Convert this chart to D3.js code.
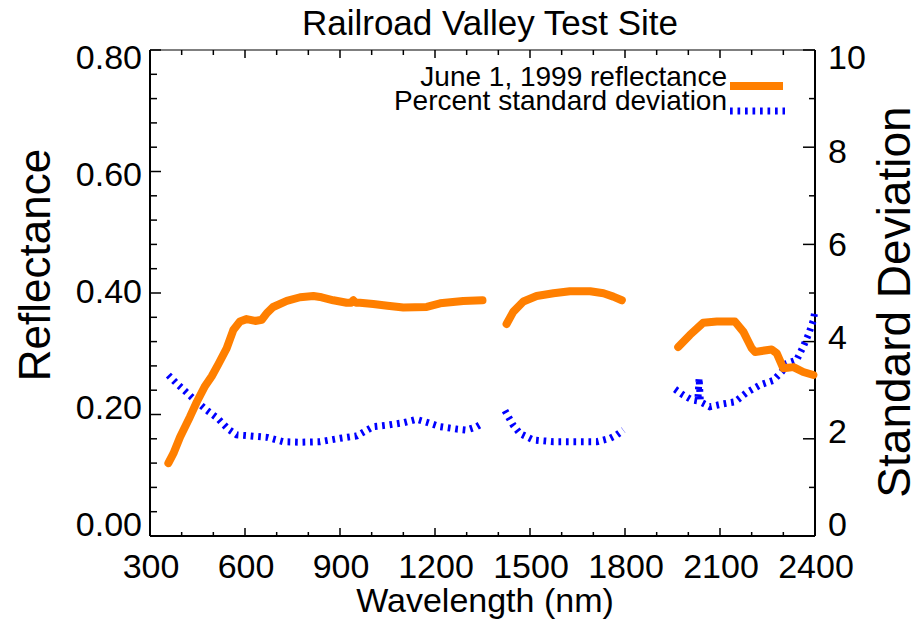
<!DOCTYPE html>
<html>
<head>
<meta charset="utf-8">
<script src="https://cdn.jsdelivr.net/npm/d3@7"></script>
<style>
  html, body { margin: 0; padding: 0; background: #fff; }
  svg { display: block; font-family: "Liberation Sans", Arial, Helvetica, sans-serif; }
</style>
</head>
<body>
<svg id="chart" width="924" height="622"></svg>
<script>
// ---------------- data ----------------
const title = "Railroad Valley Test Site";
const xLabel = "Wavelength (nm)";
const yLeftLabel = "Reflectance";
const yRightLabel = "Standard Deviation";
const legendLabels = ["June 1, 1999 reflectance", "Percent standard deviation"];

const xTickValues = [300, 600, 900, 1200, 1500, 1800, 2100, 2400];
const yLeftTickValues = [0.0, 0.2, 0.4, 0.6, 0.8];
const yLeftTickLabels = ["0.00", "0.20", "0.40", "0.60", "0.80"];
const yRightTickValues = [0, 2, 4, 6, 8, 10];
const yRightTickLabels = ["0", "2", "4", "6", "8", "10"];

// null marks a gap (water absorption bands)
const reflWavelength = [358, 374, 395, 426, 448, 474, 495, 516, 542, 563, 584, 605, 632, 653, 669, 689,
  732, 774, 816, 842, 879, 921, 935, 942, 950, 963, 1005, 1050, 1100, 1174, 1216, 1289, 1350,
  null,
  1426, 1447, 1479, 1521, 1574, 1626, 1690, 1732, 1763, 1790,
  null,
  1968, 2005, 2047, 2090, 2147, 2174, 2200, 2211, 2263, 2279, 2300, 2332, 2363, 2395];
const reflectance = [0.120, 0.136, 0.163, 0.196, 0.221, 0.247, 0.263, 0.283, 0.309, 0.339, 0.353, 0.357, 0.354, 0.356, 0.367, 0.377,
  0.387, 0.393, 0.395, 0.393, 0.388, 0.384, 0.384, 0.388, 0.384, 0.384, 0.382, 0.379, 0.376, 0.377, 0.383, 0.387, 0.388,
  null,
  0.349, 0.369, 0.386, 0.395, 0.3995, 0.403, 0.403, 0.3995, 0.394, 0.388,
  null,
  0.311, 0.331, 0.351, 0.353, 0.353, 0.336, 0.309, 0.303, 0.307, 0.301, 0.276, 0.278, 0.270, 0.265];

const sdWavelength = [358, 384, 416, 448, 479, 514, 547, 574, 616, 669, 721, 774, 837, 900, 953, 1005,
  1047, 1100, 1142, 1174, 1216, 1269, 1300, 1332, 1353,
  null,
  1421, 1432, 1447, 1468, 1511, 1574, 1658, 1711, 1753, 1774, 1795,
  null,
  1958, 1984, 2011, 2030, 2034, 2038, 2068, 2111, 2147, 2184, 2227, 2268, 2295, 2311, 2342, 2363, 2379, 2395, 2400];
const stdDeviation = [3.31, 3.14, 2.95, 2.76, 2.59, 2.42, 2.20, 2.08, 2.06, 2.03, 1.94, 1.93, 1.94, 2.01, 2.06, 2.25,
  2.28, 2.33, 2.40, 2.34, 2.25, 2.20, 2.18, 2.25, 2.33,
  null,
  2.58, 2.45, 2.28, 2.11, 1.975, 1.94, 1.94, 1.94, 2.01, 2.08, 2.18,
  null,
  3.02, 2.90, 2.80, 2.78, 3.25, 2.76, 2.66, 2.72, 2.76, 2.95, 3.11, 3.20, 3.38, 3.55, 3.62, 3.90, 4.14, 4.44, 4.65];

// ---------------- layout ----------------
const svg = d3.select("#chart");
const L = 150, R = 815, T = 50, B = 536;
const ORANGE = "#ff7f00", BLUE = "#0000ff";

const x = d3.scaleLinear().domain([300, 2400]).range([L, R]);
const yL = d3.scaleLinear().domain([0, 0.8]).range([B, T]);
const yR = d3.scaleLinear().domain([0, 10]).range([B, T]);
// IDL-style label placement (slightly inset from the ends)
const yLabL = d3.scaleLinear().domain([0, 0.8]).range([524, 57]);
const yLabR = d3.scaleLinear().domain([0, 10]).range([524, 57]);

const ax = svg.append("g").attr("stroke", "#000").attr("stroke-width", 1.5).attr("fill", "none");
// frame
ax.append("line").attr("x1", L).attr("x2", R).attr("y1", B).attr("y2", B).attr("stroke-width", 2);
ax.append("line").attr("x1", L).attr("x2", R).attr("y1", T).attr("y2", T).attr("stroke", "#555");
ax.append("line").attr("x1", L).attr("x2", L).attr("y1", T).attr("y2", B).attr("stroke-width", 2);
ax.append("line").attr("x1", R).attr("x2", R).attr("y1", T).attr("y2", B).attr("stroke-width", 2);

// x ticks (bottom & top)
const xMinor = d3.range(300, 2401, 100);
xMinor.forEach(v => {
  const major = xTickValues.includes(v);
  ax.append("line").attr("x1", x(v)).attr("x2", x(v)).attr("y1", B).attr("y2", B - (major ? 8 : 4));
  ax.append("line").attr("x1", x(v)).attr("x2", x(v)).attr("y1", T).attr("y2", T + (major ? 8 : 5));
});
// left ticks
d3.range(0, 21).map(i => i * 0.04).forEach((v, i) => {
  const major = i % 5 === 0;
  ax.append("line").attr("x1", L).attr("x2", L + (major ? 11 : 7)).attr("y1", yL(v)).attr("y2", yL(v));
});
// right ticks
d3.range(0, 11).forEach(v => {
  const major = v % 2 === 0;
  ax.append("line").attr("x1", R).attr("x2", R - (major ? 12 : 6)).attr("y1", yR(v)).attr("y2", yR(v));
});

const FS = 34;
// x tick labels
svg.append("g").selectAll("text").data(xTickValues).join("text")
  .attr("x", d => x(d) + 1).attr("y", 578).attr("text-anchor", "middle")
  .attr("font-size", FS).text(d => d);
// left tick labels
svg.append("g").selectAll("text").data(yLeftTickValues).join("text")
  .attr("x", 142).attr("y", d => yLabL(d)).attr("dy", "0.36em").attr("text-anchor", "end")
  .attr("font-size", FS).text((d, i) => yLeftTickLabels[i]);
// right tick labels
svg.append("g").selectAll("text").data(yRightTickValues).join("text")
  .attr("x", 828).attr("y", d => yLabR(d)).attr("dy", "0.36em").attr("text-anchor", "start")
  .attr("font-size", FS).text((d, i) => yRightTickLabels[i]);

// titles
svg.append("text").attr("x", 490).attr("y", 35).attr("text-anchor", "middle").attr("font-size", 35).text(title);
svg.append("text").attr("x", 485).attr("y", 612).attr("text-anchor", "middle").attr("font-size", FS).text(xLabel);
svg.append("text").attr("transform", "translate(50,265) rotate(-90)").attr("text-anchor", "middle")
  .attr("font-size", 44).text(yLeftLabel);
svg.append("text").attr("transform", "translate(910,302) rotate(-90)").attr("text-anchor", "middle")
  .attr("font-size", 46).text(yRightLabel);

// ---------------- series ----------------
const reflData = reflWavelength.map((w, i) => ({ w, v: reflectance[i] }));
const sdData = sdWavelength.map((w, i) => ({ w, v: stdDeviation[i] }));

const reflLine = d3.line().defined(d => d.w != null && d.v != null).x(d => x(d.w)).y(d => yL(d.v));
const sdLine = d3.line().defined(d => d.w != null && d.v != null).x(d => x(d.w)).y(d => yR(d.v));

svg.append("path").datum(sdData).attr("d", sdLine)
  .attr("fill", "none").attr("stroke", BLUE).attr("stroke-width", 7)
  .attr("stroke-dasharray", "2.7 4.8").attr("stroke-linecap", "butt");

svg.append("path").datum(reflData).attr("d", reflLine)
  .attr("fill", "none").attr("stroke", ORANGE).attr("stroke-width", 8)
  .attr("stroke-linejoin", "round").attr("stroke-linecap", "round");

// ---------------- legend ----------------
const lg = svg.append("g");
lg.append("text").attr("x", 727).attr("y", 86).attr("text-anchor", "end").attr("font-size", 28).text(legendLabels[0]);
lg.append("text").attr("x", 727).attr("y", 110).attr("text-anchor", "end").attr("font-size", 28).text(legendLabels[1]);
lg.append("line").attr("x1", 730).attr("x2", 783).attr("y1", 86).attr("y2", 86)
  .attr("stroke", ORANGE).attr("stroke-width", 8);
lg.append("line").attr("x1", 730).attr("x2", 785).attr("y1", 111).attr("y2", 111)
  .attr("stroke", BLUE).attr("stroke-width", 7).attr("stroke-dasharray", "2.7 4.8");
</script>
</body>
</html>
